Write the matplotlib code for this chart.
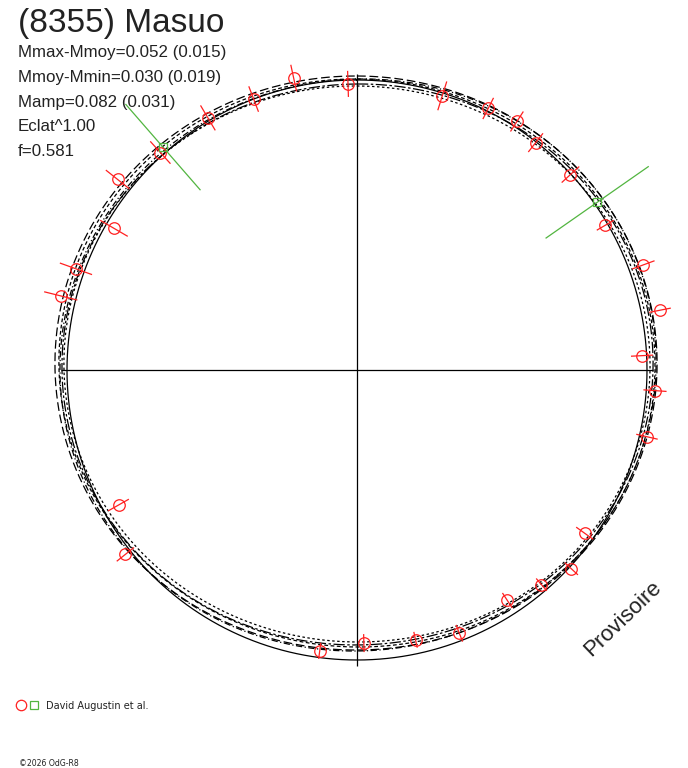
import numpy as np
import matplotlib
matplotlib.use("Agg")
import matplotlib.pyplot as plt
from matplotlib.collections import LineCollection

# ---------------- data ----------------
title = "(8355) Masuo"
stats_lines = ["Mmax-Mmoy=0.052 (0.015)", "Mmoy-Mmin=0.030 (0.019)",
               "Mamp=0.082 (0.031)", "Eclat^1.00", "f=0.581"]
legend_label = "David Augustin et al."
watermark = "Provisoire"
credit = "\u00a92026 OdG-R8"

# observations (phase 0..1, relative magnitude, error)
red_phase = [0.048, 0.074, 0.091, 0.106, 0.132, 0.166, 0.194, 0.219, 0.242, 0.261,
             0.286, 0.349, 0.369, 0.387, 0.408, 0.441, 0.466, 0.496, 0.521, 0.643,
             0.668, 0.789, 0.805, 0.834, 0.857, 0.883, 0.915, 0.942, 0.966, 0.995]
red_dmag = [0.010, -0.009, -0.019, 0.003, 0.002, 0.009, -0.052, -0.065, 0.016, -0.030,
            -0.026, 0.034, -0.008, 0.024, 0.051, 0.026, 0.048, 0.058, 0.023, -0.021,
            0.055, -0.053, -0.030, 0.030, -0.055, -0.011, -0.010, 0.000, -0.030, 0.013]
red_err = [0.052, 0.041, 0.041, 0.041, 0.041, 0.034, 0.041, 0.038, 0.038, 0.040,
           0.038, 0.036, 0.031, 0.028, 0.031, 0.031, 0.028, 0.031, 0.028, 0.038,
           0.041, 0.059, 0.059, 0.055, 0.052, 0.052, 0.050, 0.047, 0.047, 0.045]

green_phase = [0.153, 0.886]
green_dmag = [-0.010, -0.019]
green_err = [0.217, 0.197]

# Fourier fits (several solutions): dm = a0 + a1 cos + b1 sin + a2 cos2 + b2 sin2
fit_a0 = [-0.0138, -0.0034, 0.0069, 0.0155, -0.0069]
fit_a1 = [-0.0241, -0.0241, -0.0190, -0.0207, -0.0172]
fit_b1 = [0.0034, 0.0000, -0.0017, 0.0000, -0.0034]
fit_a2 = [0.0241, 0.0241, 0.0259, 0.0259, 0.0207]
fit_b2 = [0.0000, 0.0030, -0.0030, 0.0020, -0.0069]
fit_styles = [(0, (7, 3)), (0, (3, 2)), (0, (9, 2, 2, 2)), (0, (2, 2)), (0, (5, 2, 1, 2))]

# ---------------- layout ----------------
W, H = 688, 768
CX, CY, UNIT = 357, 370, 290.0   # centre pixel and pixels per unit radius
AXIS_EXT = 1.02

fig = plt.figure(figsize=(W / 100, H / 100), dpi=100)
ax = fig.add_axes([0, 0, 1, 1])
ax.set_xlim(-CX / UNIT, (W - CX) / UNIT)
ax.set_ylim(-(H - CY) / UNIT, CY / UNIT)
ax.set_axis_off()


def to_xy(phase, dmag):
    th = 2 * np.pi * np.asarray(phase)
    r = 1 - np.asarray(dmag)
    return r * np.sin(th), r * np.cos(th)


# cross
ax.hlines(0, -AXIS_EXT, AXIS_EXT, color="black", lw=0.9)
ax.vlines(0, -AXIS_EXT, AXIS_EXT, color="black", lw=0.9)

# mean circle
grid = np.linspace(0, 1, 721)
x0, y0 = to_xy(grid, np.zeros_like(grid))
ax.plot(x0, y0, color="black", lw=0.9)

# fitted curves
th = 2 * np.pi * grid
for a0, a1, b1, a2, b2, ls in zip(fit_a0, fit_a1, fit_b1, fit_a2, fit_b2, fit_styles):
    dm = a0 + a1 * np.cos(th) + b1 * np.sin(th) + a2 * np.cos(2 * th) + b2 * np.sin(2 * th)
    x, y = to_xy(grid, dm)
    ax.plot(x, y, color="black", lw=0.9, linestyle=ls)


def error_bars(phase, dmag, err, color, lw):
    phase = np.asarray(phase)
    dmag = np.asarray(dmag)
    err = np.asarray(err)
    xa, ya = to_xy(phase, dmag - err)
    xb, yb = to_xy(phase, dmag + err)
    segs = [[(p, q), (s, t)] for p, q, s, t in zip(xa, ya, xb, yb)]
    ax.add_collection(LineCollection(segs, colors=color, linewidths=lw))


RED = "#ff2020"
GREEN = "#52b540"
error_bars(red_phase, red_dmag, red_err, RED, 0.9)
error_bars(green_phase, green_dmag, green_err, GREEN, 0.9)

xr, yr = to_xy(red_phase, red_dmag)
ax.plot(xr, yr, linestyle="none", marker="o", ms=8.3, mfc="none", mec=RED, mew=0.9)
xg, yg = to_xy(green_phase, green_dmag)
ax.plot(xg, yg, linestyle="none", marker="s", ms=5.5, mfc="none", mec=GREEN, mew=0.9)

# texts
FONT = "Liberation Sans"
TXT = "#222222"
fig.text(18 / W, 1 - 32 / H, title, fontsize=24, family=FONT, color=TXT, va="baseline")
for i, s in enumerate(stats_lines):
    fig.text(18 / W, 1 - (57 + 24.8 * i) / H, s, fontsize=12.2, family=FONT, color=TXT,
             va="baseline")

fig.text(623 / W, 1 - 619 / H, watermark, fontsize=16, family=FONT, color=TXT,
         rotation=44, ha="center", va="center", rotation_mode="anchor")

# legend
fig.lines.append(plt.Line2D([21 / W], [1 - 705 / H], transform=fig.transFigure,
                            marker="o", ms=7.5, mfc="none", mec=RED, mew=0.9, linestyle="none"))
fig.lines.append(plt.Line2D([34 / W], [1 - 705 / H], transform=fig.transFigure,
                            marker="s", ms=5.5, mfc="none", mec=GREEN, mew=0.9, linestyle="none"))
fig.text(46 / W, 1 - 709 / H, legend_label, fontsize=7, family="DejaVu Sans", color=TXT,
         va="baseline")
fig.text(19 / W, 1 - 766 / H, credit, fontsize=5.6, family="DejaVu Sans", color=TXT,
         va="baseline")

fig.savefig("out.png", dpi=100, facecolor="white")
